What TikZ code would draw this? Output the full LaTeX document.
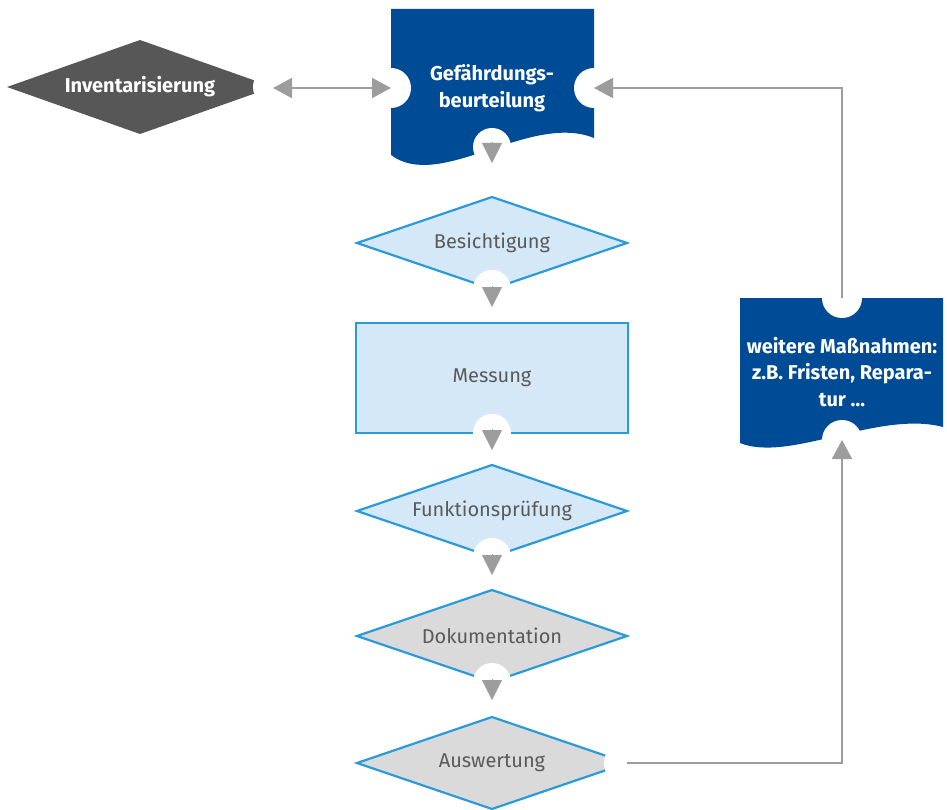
\documentclass[tikz,border=0pt]{standalone}
\usepackage{fontspec}
\setmainfont{Fira Sans}
\usetikzlibrary{shapes.geometric,arrows.meta,calc}
\definecolor{docblue}{HTML}{004B96}
\definecolor{darkg}{HTML}{575757}
\definecolor{lightblue}{HTML}{D5E8F8}
\definecolor{bordblue}{HTML}{2A9AD8}
\definecolor{lightgray}{HTML}{DADADA}
\definecolor{arrgray}{HTML}{9D9D9D}
\definecolor{txtgray}{HTML}{5A5A5A}
\begin{document}
\begin{tikzpicture}[x=1pt,y=-1pt,
  flowd/.style={diamond, shape aspect=2.9, minimum width=270pt, minimum height=92pt, inner sep=0pt, outer sep=0pt,
    line width=2.2pt, draw=bordblue, text=txtgray, font=\fontsize{20}{24}\selectfont},
  flowr/.style={rectangle, minimum width=272pt, minimum height=110pt, inner sep=0pt, outer sep=0pt,
    line width=2.2pt, draw=bordblue, text=txtgray, font=\fontsize{20}{24}\selectfont},
  lb/.style={fill=lightblue},
  lg/.style={fill=lightgray},
  whitetxt/.style={text=white, align=center, font=\bfseries\fontsize{20}{26.5}\selectfont},
  notch/.style={fill=white},
  conn/.style={draw=arrgray, line width=2pt, -{Triangle[length=19pt,width=20pt]}},
  dconn/.style={draw=arrgray, line width=2pt, {Triangle[length=19pt,width=20pt]}-{Triangle[length=19pt,width=20pt]}},
  tri/.style={draw=arrgray, line width=0.1pt, -{Triangle[length=20pt,width=20pt]}}
]
\useasboundingbox (0,0) rectangle (947,810);

% top document
\fill[docblue] (391,9) -- (594,9) -- (594,138) .. controls (530,112) and (440,192) .. (391,155) -- cycle;
\node[whitetxt] (g) at (492,88) {Gefährdungs-\\beurteilung};
\coordinate (gW) at (391,88);
\coordinate (gE) at (594,88);
\coordinate (gS) at (492,147);

% right document
\fill[docblue] (740,298) -- (943,298) -- (943,427) .. controls (879,410) and (789,463) .. (740,443) -- cycle;
\node[whitetxt] (w) at (842,372) {weitere Maßnahmen:\\z.B. Fristen, Repara-\\tur \dots};
\coordinate (wN) at (842,298);
\coordinate (wS) at (842,440);

% Inventarisierung
\node[diamond, shape aspect=2.83, fill=darkg, minimum width=266pt, minimum height=94pt, inner sep=0pt, outer sep=0pt,
  text=white, font=\bfseries\fontsize{20}{24}\selectfont] (inv) at (140,87) {Inventarisierung};

% flow
\node[flowd, lb] (b) at (492,243) {Besichtigung};
\node[flowr, lb] (m) at (492,378) {Messung};
\node[flowd, lb] (f) at (492,511) {Funktionsprüfung};
\node[flowd, lg] (d) at (492,636) {Dokumentation};
\node[flowd, lg] (a) at (492,763) {Auswertung};

% notches
\fill[notch] (gW) circle (20);
\fill[notch] (gE) circle (20);
\fill[notch] (gS) circle (19);
\fill[notch] (wN) circle (20);
\fill[notch] (wS) circle (20);
\fill[notch] (inv.east) circle (20);
\fill[notch] (b.south) circle (19);
\fill[notch] (m.south) circle (19);
\fill[notch] (f.south) circle (19);
\fill[notch] (d.south) circle (19);
\fill[notch] (a.east) circle (23);

% connectors
\draw[dconn] (inv.east |- gW) -- (gW);
\draw[conn] (wN) |- (gE);
\draw[conn] (a.east) -- (a.east -| wS) -- (wS);
\draw[tri] ([yshift=5pt]gS) -- ([yshift=-16pt]gS);
\draw[tri] ([yshift=3pt]b.south) -- ([yshift=-18pt]b.south);
\draw[tri] ([yshift=4pt]m.south) -- ([yshift=-17pt]m.south);
\draw[tri] ([yshift=3pt]f.south) -- ([yshift=-18pt]f.south);
\draw[tri] ([yshift=3pt]d.south) -- ([yshift=-18pt]d.south);
\end{tikzpicture}
\end{document}
